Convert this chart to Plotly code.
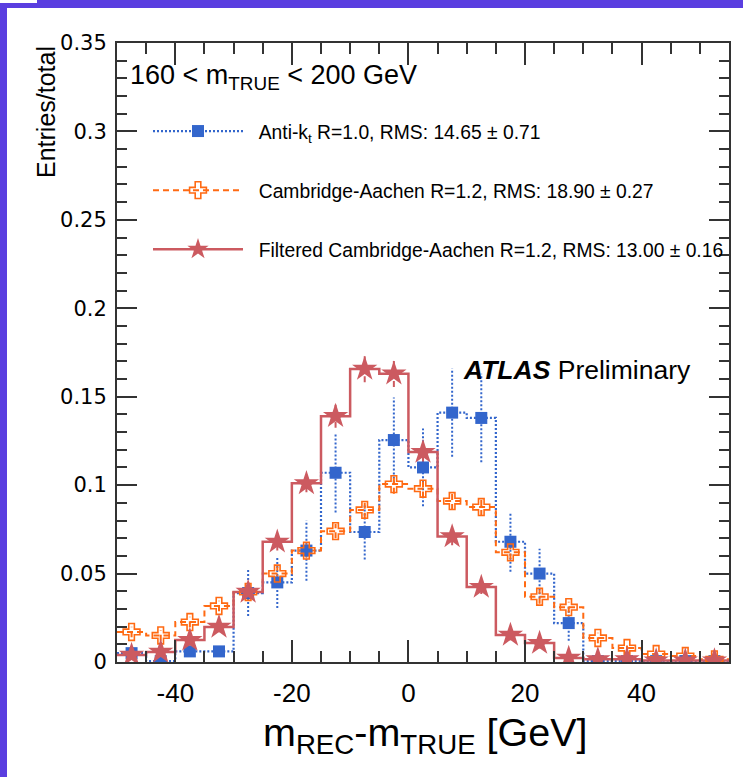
import plotly.graph_objects as go

# ---------------- data ----------------
bin_edges = [-50, -45, -40, -35, -30, -25, -20, -15, -10, -5, 0, 5, 10, 15, 20, 25, 30, 35, 40, 45, 50, 55]
bin_centers = [-47.5, -42.5, -37.5, -32.5, -27.5, -22.5, -17.5, -12.5, -7.5, -2.5,
               2.5, 7.5, 12.5, 17.5, 22.5, 27.5, 32.5, 37.5, 42.5, 47.5, 52.5]

antikt = [0.005, 0.0005, 0.006, 0.006, 0.039, 0.045, 0.063, 0.107, 0.0735, 0.1255,
          0.110, 0.141, 0.138, 0.068, 0.050, 0.022, 0.0005, 0.0005, 0.0005, 0.0005, 0.0005]
antikt_err = [0.003, 0.002, 0.003, 0.003, 0.013, 0.0145, 0.017, 0.0225, 0.0155, 0.024,
              0.022, 0.025, 0.025, 0.017, 0.014, 0.010, 0.002, 0.002, 0.002, 0.002, 0.002]

ca = [0.017, 0.015, 0.0226, 0.0317, 0.0396, 0.050, 0.063, 0.074, 0.086, 0.1006,
      0.098, 0.091, 0.0876, 0.062, 0.0369, 0.031, 0.0136, 0.0079, 0.0045, 0.0034, 0.0015]
ca_err = [0.003, 0.003, 0.003, 0.003, 0.004, 0.004, 0.004, 0.004, 0.005, 0.0055,
          0.005, 0.005, 0.005, 0.004, 0.004, 0.003, 0.003, 0.002, 0.002, 0.002, 0.002]

filt = [0.004, 0.0057, 0.0124, 0.0198, 0.0396, 0.068, 0.101, 0.139, 0.1657, 0.163,
        0.1187, 0.071, 0.0424, 0.0153, 0.0107, 0.0023, 0.0015, 0.0015, 0.0008, 0.0008, 0.0008]
filt_err = [0.002, 0.002, 0.003, 0.003, 0.004, 0.005, 0.005, 0.0065, 0.0075, 0.0075,
            0.006, 0.005, 0.004, 0.003, 0.003, 0.002, 0.002, 0.001, 0.001, 0.001, 0.001]

names = [
    "Anti-k<sub>t</sub> R=1.0, RMS: 14.65 ± 0.71",
    "Cambridge-Aachen R=1.2, RMS: 18.90 ± 0.27",
    "Filtered Cambridge-Aachen R=1.2, RMS: 13.00 ± 0.16",
]

x_ticks = [-40, -20, 0, 20, 40]
x_tick_labels = ["-40", "-20", "0", "20", "40"]

# ---------------- styles ----------------
BLUE = "#3366cc"
ORANGE = "#ff6a13"
RED = "#cc5a60"

series = [
    dict(y=antikt, e=antikt_err, name=names[0], color=BLUE, dash="2px,2px", width=2.2,
         edash="2px,2px", symbol="square", msize=12, mline=0),
    dict(y=ca, e=ca_err, name=names[1], color=ORANGE, dash="6px,4px", width=2,
         edash="6px,4px", symbol="cross-open", msize=14, mline=1.6),
    dict(y=filt, e=filt_err, name=names[2], color=RED, dash="solid", width=2.5,
         edash="6px,4px", symbol="star", msize=19, mline=0),
]

fig = go.Figure()

for i, s in enumerate(series):
    # step histogram outline
    fig.add_trace(go.Scatter(
        x=bin_edges, y=s["y"] + [s["y"][-1]], mode="lines", line_shape="hv",
        line=dict(color=s["color"], dash=s["dash"], width=s["width"]),
        showlegend=False, hoverinfo="skip"))
    # error bars
    ex, ey = [], []
    for xc, v, e in zip(bin_centers, s["y"], s["e"]):
        ex += [xc, xc, None]
        ey += [max(v - e, 0), v + e, None]
    fig.add_trace(go.Scatter(
        x=ex, y=ey, mode="lines",
        line=dict(color=s["color"], dash=s["edash"], width=2),
        showlegend=False, hoverinfo="skip"))

for i, s in enumerate(series):
    fig.add_trace(go.Scatter(
        x=bin_centers, y=s["y"], mode="markers",
        marker=dict(symbol=s["symbol"], size=s["msize"], color=s["color"],
                    line=dict(color=s["color"], width=s["mline"])),
        showlegend=False))
    # legend entry
    fig.add_trace(go.Scatter(
        x=[None], y=[None], mode="lines+markers", name="&nbsp;&nbsp;" + s["name"],
        legendgroup="g%d" % i,
        line=dict(color=s["color"], dash=s["dash"], width=s["width"]),
        marker=dict(symbol=s["symbol"], size=s["msize"], color=s["color"],
                    line=dict(color=s["color"], width=s["mline"]))))

W, H = 743, 777
L, R, T, B = 117, 729, 43, 662
pw, ph = R - L, B - T

def px(xp):
    return (xp - L) / pw

def py(yp):
    return (B - yp) / ph

PURPLE = "#5a3ee0"
shapes = [
    dict(type="rect", xref="paper", yref="paper", x0=px(0), x1=px(7), y0=py(H + 100), y1=py(0),
         fillcolor=PURPLE, line=dict(width=0), layer="above"),
    dict(type="rect", xref="paper", yref="paper", x0=px(0), x1=px(W), y0=py(8), y1=py(0),
         fillcolor=PURPLE, line=dict(width=0), layer="above"),
    dict(type="rect", xref="paper", yref="paper", x0=px(0), x1=px(37), y0=py(3), y1=py(0),
         fillcolor="white", line=dict(width=0), layer="above"),
]

annotations = [
    dict(xref="paper", yref="paper", x=px(128), y=py(77), xanchor="left", yanchor="middle",
         text="160 &lt; m<sub>TRUE</sub> &lt; 200 GeV", showarrow=False,
         font=dict(family="Liberation Sans", size=27, color="black")),
    dict(xref="paper", yref="paper", x=px(461), y=py(370), xanchor="left", yanchor="middle",
         text="<b><i>ATLAS</i></b> Preliminary", showarrow=False,
         font=dict(family="Liberation Sans", size=26.5, color="black")),
    dict(xref="paper", yref="paper", x=px(46), y=py(44), xanchor="center", yanchor="top",
         text="Entries/total", textangle=-90, showarrow=False,
         font=dict(family="Liberation Sans", size=25, color="black")),
    dict(xref="paper", yref="paper", x=px(425), y=py(735), xanchor="center", yanchor="middle",
         text="m<sub>REC</sub>-m<sub>TRUE</sub> [GeV]", showarrow=False,
         font=dict(family="Liberation Sans", size=39.5, color="black")),
]

fig.update_layout(
    width=W, height=H,
    margin=dict(l=L, r=W - R, t=T, b=H - B, pad=0),
    paper_bgcolor="white", plot_bgcolor="white",
    shapes=shapes, annotations=annotations,
    showlegend=True,
    legend=dict(x=px(148), y=py(112), xanchor="left", yanchor="top",
                bgcolor="rgba(0,0,0,0)", borderwidth=0,
                font=dict(family="Liberation Sans", size=19.3, color="black"),
                itemwidth=90, tracegroupgap=31, traceorder="grouped"),
    xaxis=dict(range=[-50, 55], tickvals=x_ticks, ticktext=x_tick_labels,
               ticks="inside", ticklen=22, tickwidth=1.5,
               tickcolor="#333", showline=True, linecolor="#333", linewidth=2, mirror="allticks",
               showgrid=False, zeroline=False, ticklabelstandoff=7,
               tickfont=dict(family="Liberation Sans", size=26, color="black"),
               minor=dict(dtick=5, tick0=0, ticks="inside", ticklen=11, tickwidth=1.5, tickcolor="#333",
                          showgrid=False)),
    yaxis=dict(range=[0, 0.35], dtick=0.05, tick0=0, ticks="inside", ticklen=20, tickwidth=1.5,
               tickcolor="#333", showline=True, linecolor="#333", linewidth=2, mirror="allticks",
               showgrid=False, zeroline=False, ticklabelstandoff=4,
               tickfont=dict(family="DejaVu Sans", size=21, color="black"),
               minor=dict(dtick=0.01, tick0=0, ticks="inside", ticklen=10, tickwidth=1.5, tickcolor="#333",
                          showgrid=False)),
)

fig.write_html("out.html")
